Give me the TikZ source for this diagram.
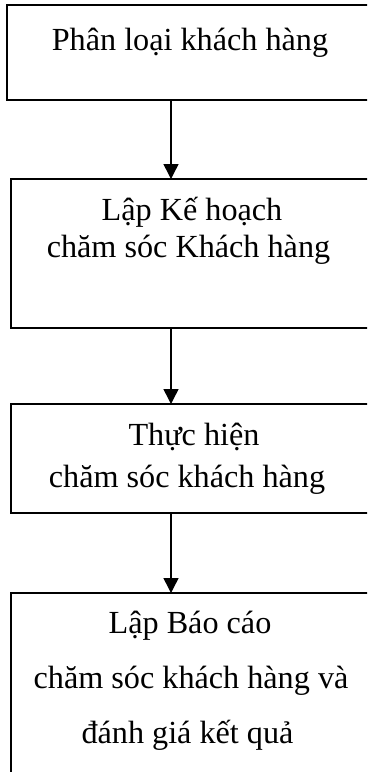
\documentclass[tikz,border=0pt]{standalone}
\usepackage{fontspec}
\setmainfont{Liberation Serif}
\usetikzlibrary{arrows.meta}
\begin{document}
\begin{tikzpicture}[x=1bp,y=-1bp,
  boxline/.style={draw=black,line width=1.6bp},
  lbl/.style={anchor=base,inner sep=0pt,font=\fontsize{32.2bp}{37bp}\selectfont},
  conn/.style={line width=1.5bp,-{Triangle[width=15bp,length=15bp]}}]
\useasboundingbox (0,0) rectangle (367,772);
\clip (0,0) rectangle (367,772);
\fill[white] (0,0) rectangle (367,772);
% boxes
\draw[boxline] (7,5) rectangle (380,100);
\coordinate (b1s) at (171,100);
\draw[boxline] (11,179) rectangle (380,328);
\coordinate (b2n) at (171,179); \coordinate (b2s) at (171,328);
\draw[boxline] (11,404) rectangle (380,513);
\coordinate (b3n) at (171,404); \coordinate (b3s) at (171,513);
\draw[boxline] (11,593) rectangle (380,800);
\coordinate (b4n) at (171,593);
% texts
\node[lbl] (t1) at (190,50.5) {Phân loại khách hàng};
\node[lbl] (t2a) at (192,220) {Lập Kế hoạch};
\node[lbl] (t2b) at (188.5,257) {chăm sóc Khách hàng};
\node[lbl] (t3a) at (194,445) {Thực hiện};
\node[lbl] (t3b) at (187,487) {chăm sóc khách hàng};
\node[lbl] (t4a) at (190,633) {Lập Báo cáo};
\node[lbl] (t4b) at (191,688) {chăm sóc khách hàng và};
\node[lbl] (t4c) at (187.5,743) {đánh giá kết quả};
% arrows
\draw[conn] (b1s) -- (b2n);
\draw[conn] (b2s) -- (b3n);
\draw[conn] (b3s) -- (b4n);
\end{tikzpicture}
\end{document}
